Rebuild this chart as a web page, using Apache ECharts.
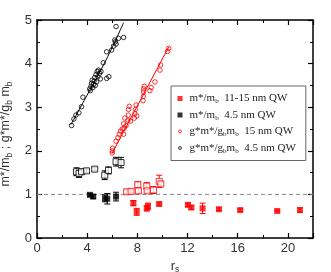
<!DOCTYPE html>
<html><head><meta charset="utf-8">
<script src="https://cdn.jsdelivr.net/npm/echarts@6/dist/echarts.min.js"></script>
<style>html,body{margin:0;padding:0;background:#fff}#c{width:331px;height:272px}</style>
</head><body><div id="c"></div>
<script>
// m*/m_b 11-15 nm QW : [rs, value, error]
const redFilled = [[7.68,0.80,0.06],[7.95,0.60,0.08],[8.75,0.68,0.06],[8.85,0.73,0.07],[9.74,0.78,0.03],[12.03,0.76,0.04],[12.3,0.70,0.04],[13.2,0.68,0.12],[14.5,0.66,0.03],[16.2,0.64,0.03],[19.15,0.62,0.02],[20.96,0.64,0.05]];
// m*/m_b 4.5 nm QW
const blackFilled = [[4.22,0.99,0.03],[4.48,0.95,0.04],[5.42,0.91,0.08],[5.6,0.90,0.12],[6.3,0.95,0.1]];
// g*m*/g_b m_b 15 nm QW (squares with error bars)
const redOpenSq = [[7.15,1.06,0.05],[7.5,1.07,0.04],[8.03,1.22,0.07],[8.08,1.08,0.06],[8.75,1.19,0.08],[8.78,1.08,0.05],[9.28,1.10,0.08],[9.74,1.30,0.14],[9.87,1.24,0.05]];
// g*m*/g_b m_b 4.5 nm QW (squares with error bars)
const blackOpenSq = [[3.15,1.52,0.09],[3.35,1.48,0.09],[3.55,1.52,0.06],[3.95,1.54,0.04],[4.6,1.58,0.04],[5.4,1.44,0.1],[5.7,1.55,0.08],[6.3,1.75,0.1],[6.7,1.73,0.12]];
// g*m*/g_b m_b 15 nm QW (circles)
const redCircles = [[6.0,1.95],[6.0,2.0],[6.02,2.06],[6.3,2.22],[6.45,2.3],[6.55,2.38],[6.65,2.45],[6.8,2.5],[6.9,2.38],[6.95,2.52],[6.9,2.62],[7.0,2.75],[7.1,2.58],[7.25,2.7],[7.28,2.82],[7.3,2.95],[7.35,3.02],[7.45,2.68],[7.76,2.75],[7.8,2.85],[7.85,2.95],[7.9,3.05],[7.95,2.8],[8.45,3.15],[8.48,3.25],[8.5,3.35],[8.5,3.42],[8.55,3.48],[9.0,3.38],[9.1,3.45],[9.4,3.58],[9.8,3.85],[9.85,3.97],[10.4,4.28],[10.5,4.35]];
// g*m*/g_b m_b 4.5 nm QW (circles)
const blackCircles = [[2.75,2.58],[2.94,2.73],[3.1,2.82],[3.34,2.87],[3.55,3.01],[3.66,3.23],[4.2,3.42],[4.3,3.48],[4.35,3.55],[4.4,3.62],[4.45,3.45],[4.5,3.52],[4.55,3.6],[4.6,3.68],[4.65,3.5],[4.7,3.75],[4.75,3.58],[4.8,3.82],[4.85,3.7],[4.9,3.85],[5.0,3.78],[5.05,3.65],[5.1,3.82],[4.25,3.38],[5.55,3.66],[5.73,3.7],[5.28,4.02],[5.55,4.27],[5.95,4.31],[6.1,4.4],[6.2,4.54],[6.25,4.5],[6.3,4.45],[6.5,4.58],[6.9,4.6],[6.3,4.85]];
// fit lines
const blackFit = [[2.7,2.6],[4.0,3.28],[5.5,4.08],[6.9,4.94]];
const redFit = [[6.0,1.95],[10.5,4.38]];
const refLine = [[0,1],[22,1]];
const xTicks = [0,4,8,12,16,20];
const yTicks = [0,1,2,3,4,5];

const names = {
  rf: 'm*/mb 11-15 nm QW',
  bf: 'm*/mb 4.5 nm QW',
  rc: 'g*m*/gbmb 15 nm QW',
  bc: 'g*m*/gbmb 4.5 nm QW'
};
const legendText = {};
legendText[names.rf] = 'm*/m{s|b}  11-15 nm QW';
legendText[names.bf] = 'm*/m{s|b}  4.5 nm QW';
legendText[names.rc] = 'g*m*/g{s|b}m{s|b}  15 nm QW';
legendText[names.bc] = 'g*m*/g{s|b}m{s|b}  4.5 nm QW';
const smallCircle = 'path://M0,0L0,0M12,12L12,12M6,2.5A3.5,3.5,0,1,1,5.99,2.5Z';

function errSeries(data, color) {
  return {
    type: 'custom', silent: true, z: 2,
    data: data,
    renderItem: function (params, api) {
      const x = api.value(0), y = api.value(1), e = api.value(2);
      const top = api.coord([x, y + e]);
      const bot = api.coord([x, y - e]);
      const w = 3;
      const st = {stroke: color, lineWidth: 1};
      return {type: 'group', children: [
        {type: 'line', shape: {x1: top[0], y1: top[1], x2: bot[0], y2: bot[1]}, style: st},
        {type: 'line', shape: {x1: top[0]-w, y1: top[1], x2: top[0]+w, y2: top[1]}, style: st},
        {type: 'line', shape: {x1: bot[0]-w, y1: bot[1], x2: bot[0]+w, y2: bot[1]}, style: st}
      ]};
    }
  };
}

const axisCommon = {
  axisLine: {show: true, onZero: false, lineStyle: {color: '#000', width: 1.5}},
  axisTick: {show: true, inside: true, length: 5, lineStyle: {color: '#000', width: 1.2}},
  minorTick: {show: true, splitNumber: 2, length: 3, lineStyle: {color: '#000', width: 1}},
  splitLine: {show: false}
};
const labelStyle = {color: '#333', fontFamily: 'Liberation Sans', fontSize: 13};
const subRich = {s: {fontSize: 8.5, verticalAlign: 'bottom', padding: [7,0,0,0], fontFamily: 'Liberation Sans', color: '#333'}};

const chart = echarts.init(document.getElementById('c'), null, {renderer: 'canvas'});
chart.setOption({
  animation: false,
  backgroundColor: '#fff',
  grid: {left: 37, top: 20, right: 18, bottom: 34, containLabel: false, outerBoundsMode: 'none'},
  xAxis: [
    Object.assign({type: 'value', min: 0, max: 22, interval: 4, position: 'bottom',
      axisLabel: Object.assign({margin: 4, showMaxLabel: false}, labelStyle),
      name: 'r{s|s}', nameLocation: 'middle', nameGap: 17,
      nameTextStyle: {color: '#333', fontFamily: 'Liberation Sans', fontSize: 13, rich: subRich}
    }, axisCommon),
    Object.assign({type: 'value', min: 0, max: 22, interval: 4, position: 'top', axisLabel: {show: false}}, axisCommon)
  ],
  yAxis: [
    Object.assign({type: 'value', min: 0, max: 5, interval: 1, position: 'left',
      axisLabel: Object.assign({margin: 5}, labelStyle),
      name: 'm*/m{s|b} ; g*m*/g{s|b} m{s|b}', nameLocation: 'middle', nameGap: 20, nameRotate: 90,
      nameTextStyle: {color: '#333', fontFamily: 'Liberation Sans', fontSize: 12.5, padding: [0, 10, 0, 0], rich: subRich}
    }, axisCommon),
    Object.assign({type: 'value', min: 0, max: 5, interval: 1, position: 'right', axisLabel: {show: false}}, axisCommon)
  ],
  legend: {
    data: [
      {name: names.rf, icon: 'rect', itemStyle: {color: '#ff0000', borderWidth: 0}},
      {name: names.bf, icon: 'rect', itemStyle: {color: '#000', borderWidth: 0}},
      {name: names.rc, icon: smallCircle, itemStyle: {color: '#fff', borderColor: '#ff0000', borderWidth: 1}},
      {name: names.bc, icon: smallCircle, itemStyle: {color: '#fff', borderColor: '#000', borderWidth: 1}}
    ],
    orient: 'vertical', left: 171, top: 86, width: 130,
    padding: [7, 10, 6, 6],
    itemWidth: 5, itemHeight: 5, itemGap: 4.5,
    backgroundColor: '#fff', borderColor: '#666', borderWidth: 1,
    selectedMode: false,
    formatter: function (n) { return legendText[n]; },
    textStyle: {fontFamily: 'Liberation Serif', fontSize: 11, color: '#222', padding: [0, 0, 0, 2],
      rich: {s: {fontSize: 7, verticalAlign: 'bottom', padding: [6,0,0,0], fontFamily: 'Liberation Serif', color: '#222'}}}
  },
  series: [
    {type: 'line', data: refLine, symbol: 'none', silent: true, lineStyle: {color: '#888', width: 1, type: [4, 3]}, z: 1},
    {type: 'line', data: blackFit, symbol: 'none', smooth: true, silent: true, lineStyle: {color: '#000', width: 1}, z: 1},
    {type: 'line', data: redFit, symbol: 'none', silent: true, lineStyle: {color: '#ff0000', width: 1}, z: 1},
    errSeries(redFilled, '#ff0000'),
    errSeries(blackFilled, '#000'),
    errSeries(redOpenSq, '#ff0000'),
    errSeries(blackOpenSq, '#000'),
    {name: names.rf, type: 'scatter', data: redFilled, symbol: 'rect', symbolSize: 6,
      itemStyle: {color: '#ff0000'}, z: 3},
    {name: names.bf, type: 'scatter', data: blackFilled, symbol: 'rect', symbolSize: 6,
      itemStyle: {color: '#000'}, z: 3},
    {name: names.rc, type: 'scatter', data: redCircles, symbol: 'circle', symbolSize: 4.5,
      itemStyle: {color: 'rgba(255,255,255,0)', borderColor: '#ff0000', borderWidth: 1}, z: 3},
    {name: names.bc, type: 'scatter', data: blackCircles, symbol: 'circle', symbolSize: 4.5,
      itemStyle: {color: 'rgba(255,255,255,0)', borderColor: '#000', borderWidth: 1}, z: 3},
    {name: names.rc, type: 'scatter', data: redOpenSq, symbol: 'rect', symbolSize: 6,
      itemStyle: {color: '#fff', borderColor: '#ff0000', borderWidth: 1}, z: 3},
    {name: names.bc, type: 'scatter', data: blackOpenSq, symbol: 'rect', symbolSize: 6,
      itemStyle: {color: '#fff', borderColor: '#000', borderWidth: 1}, z: 3}
  ]
});
</script></body></html>
